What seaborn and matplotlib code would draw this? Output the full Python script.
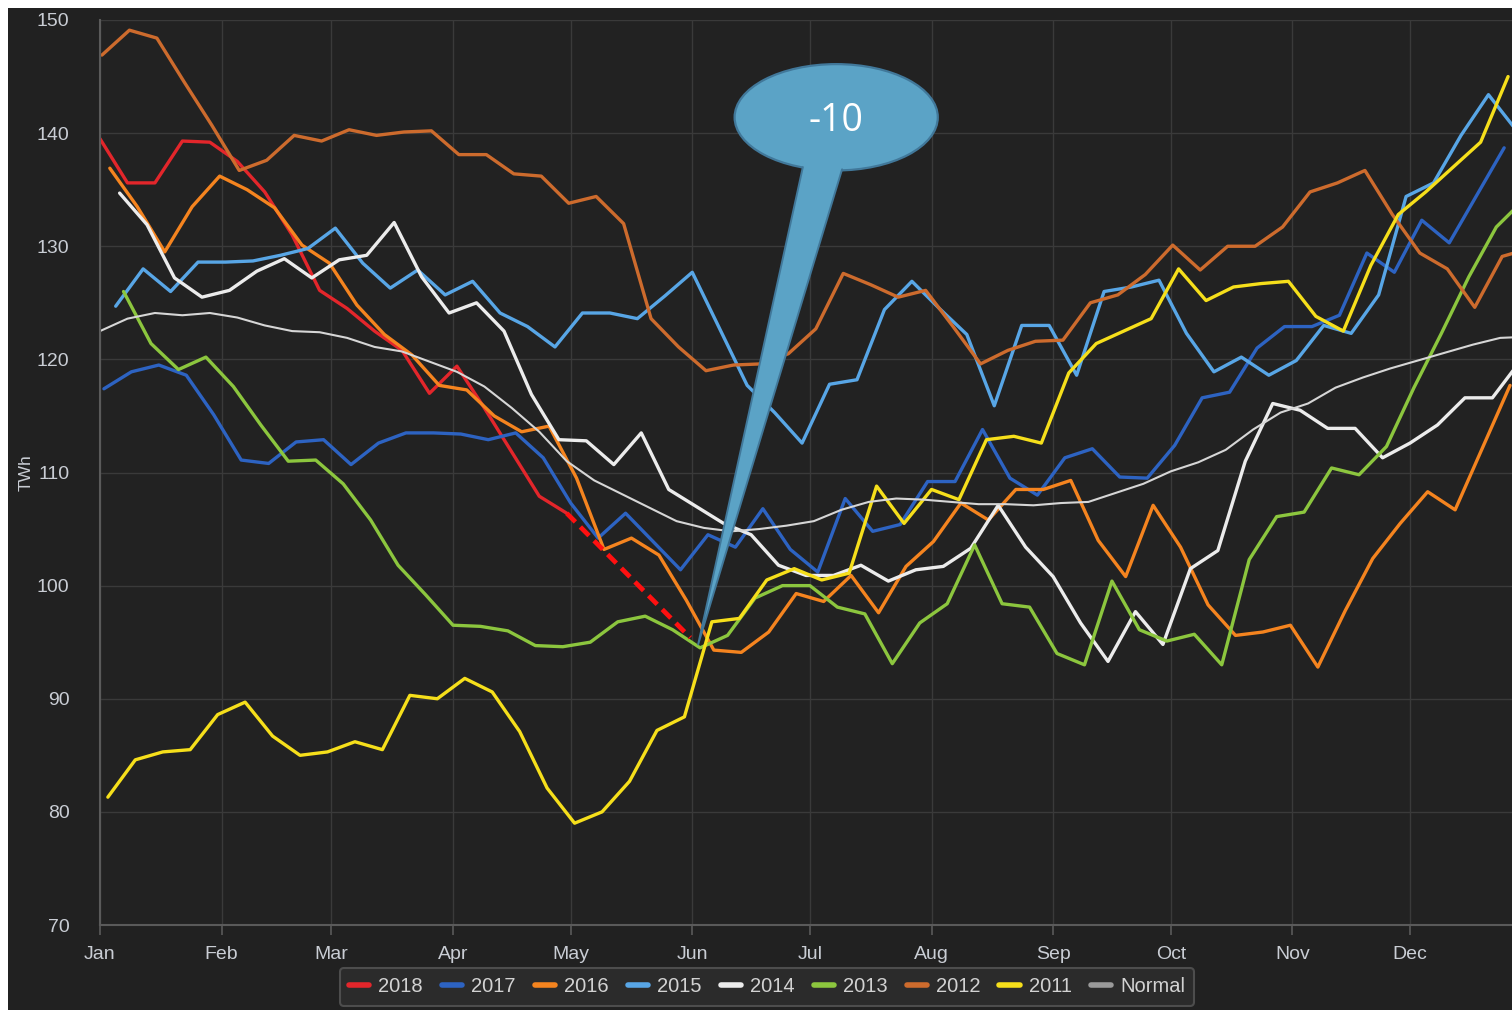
import numpy as np
import pandas as pd
import matplotlib
matplotlib.use("Agg")
import matplotlib.pyplot as plt
import seaborn as sns
from matplotlib.lines import Line2D
from matplotlib.patches import Ellipse, Polygon, Rectangle

# ---- data (weekly reservoir energy, TWh) ----
months = ["Jan", "Feb", "Mar", "Apr", "May", "Jun",
          "Jul", "Aug", "Sep", "Oct", "Nov", "Dec"]
month_start_days = [0, 31, 59, 90, 120, 151, 181, 212, 243, 273, 304, 334]

series_order = ["2018", "2017", "2016", "2015", "2014", "2013", "2012", "2011", "Normal"]
# day of year of the first weekly value of each series
start_day = {"2018": 0, "2017": 1, "2016": 2.5, "2015": 4, "2014": 5,
             "2013": 6, "2012": 0.5, "2011": 2, "Normal": 0}

y2018 = [139.5, 135.6, 135.6, 139.3, 139.2, 137.5, 134.8, 131.0, 126.1, 124.5,
         122.5, 120.8, 117.0, 119.4, 115.7, 111.8, 107.9, 106.4]
y2017 = [117.4, 118.9, 119.5, 118.6, 115.1, 111.1, 110.8, 112.7, 112.9, 110.7,
         112.6, 113.5, 113.5, 113.4, 112.9, 113.5, 111.3,
         107.3, 104.2, 106.4, 103.9, 101.4, 104.5, 103.4, 106.8, 103.2, 101.2,
         107.7, 104.8, 105.4, 109.2, 109.2, 113.8, 109.5,
         108.0, 111.3, 112.1, 109.6, 109.5, 112.4, 116.6, 117.1, 121.0, 122.9,
         122.9, 123.9, 129.4, 127.7, 132.3, 130.3, 134.5, 138.7]
y2016 = [136.9, 133.5, 129.5, 133.5, 136.2, 135.0, 133.4, 130.1, 128.5, 124.8,
         122.2, 120.4, 117.7, 117.3, 115.0, 113.6, 114.1, 109.5,
         103.2, 104.2, 102.7, 98.7, 94.3, 94.1, 95.9, 99.3, 98.6, 100.9, 97.6,
         101.7, 103.9, 107.3, 105.8, 108.5,
         108.5, 109.3, 104.0, 100.8, 107.1, 103.4, 98.3, 95.6, 95.9, 96.5, 92.8,
         97.8, 102.4, 105.5, 108.3, 106.7, 112.2, 117.7]
y2015 = [124.7, 128.0, 126.0, 128.6, 128.6, 128.7, 129.2, 129.8, 131.6, 128.5,
         126.3, 127.9, 125.7, 126.9, 124.1, 122.9, 121.1,
         124.1, 124.1, 123.6, 125.6, 127.7, 122.7, 117.7, 115.3, 112.6, 117.8,
         118.2, 124.4, 126.9, 124.5, 122.2, 115.9, 123.0,
         123.0, 118.6, 126.0, 126.4, 127.0, 122.3, 118.9, 120.2, 118.6, 119.9,
         123.0, 122.3, 125.7, 134.4, 135.6, 139.8, 143.4, 140.3]
y2014 = [134.7, 131.9, 127.2, 125.5, 126.1, 127.8, 128.9, 127.2, 128.8, 129.2,
         132.1, 127.3, 124.1, 125.0, 122.5, 116.9, 112.9,
         112.8, 110.7, 113.5, 108.5, 107.0, 105.5, 104.5, 101.8, 100.9, 100.9,
         101.8, 100.4, 101.4, 101.7, 103.3, 107.1, 103.4,
         100.8, 96.7, 93.3, 97.7, 94.8, 101.5, 103.1, 111.0, 116.1, 115.5, 113.9,
         113.9, 111.3, 112.6, 114.2, 116.6, 116.6, 119.8]
y2013 = [126.0, 121.4, 119.1, 120.2, 117.6, 114.2, 111.0, 111.1, 109.0, 105.8,
         101.8, 99.2, 96.5, 96.4, 96.0, 94.7, 94.6,
         95.0, 96.8, 97.3, 96.1, 94.5, 95.6, 98.9, 100.0, 100.0, 98.1, 97.5,
         93.1, 96.7, 98.4, 103.6, 98.4, 98.1,
         94.0, 93.0, 100.4, 96.1, 95.1, 95.7, 93.0, 102.3, 106.1, 106.5, 110.4,
         109.8, 112.3, 117.5, 122.3, 127.3, 131.7, 134.1]
y2012 = [146.9, 149.1, 148.4, 144.5, 140.7, 136.7, 137.6, 139.8, 139.3, 140.3,
         139.8, 140.1, 140.2, 138.1, 138.1, 136.4, 136.2, 133.8,
         134.4, 132.0, 123.6, 121.1, 119.0, 119.5, 119.6, 120.5, 122.7, 127.6,
         126.6, 125.5, 126.1, 122.9, 119.6, 120.8, 121.6,
         121.7, 125.0, 125.7, 127.5, 130.1, 127.9, 130.0, 130.0, 131.7, 134.8,
         135.6, 136.7, 132.8, 129.4, 128.0, 124.6, 129.1, 129.8]
y2011 = [81.3, 84.6, 85.3, 85.5, 88.6, 89.7, 86.7, 85.0, 85.3, 86.2, 85.5,
         90.3, 90.0, 91.8, 90.6, 87.1, 82.1,
         79.0, 80.0, 82.7, 87.2, 88.4, 96.8, 97.1, 100.5, 101.5, 100.5, 101.1,
         108.8, 105.5, 108.5, 107.6, 112.9, 113.2,
         112.6, 118.8, 121.4, 122.5, 123.6, 128.0, 125.2, 126.4, 126.7, 126.9,
         123.8, 122.5, 128.3, 132.8, 134.8, 137.0, 139.2, 145.0]
y_normal = [122.5, 123.6, 124.1, 123.9, 124.1, 123.7, 123.0, 122.5, 122.4, 121.9,
            121.1, 120.7, 119.8, 118.9, 117.6, 115.7, 113.6, 111.0, 109.3, 108.1,
            106.9, 105.7, 105.1, 104.8, 105.0, 105.3, 105.7, 106.7, 107.4, 107.7,
            107.6, 107.4, 107.2, 107.2, 107.1, 107.3, 107.4, 108.2, 109.0, 110.1,
            110.9, 112.0, 113.8, 115.3, 116.1, 117.5, 118.4, 119.2, 119.9, 120.6,
            121.3, 121.9, 122.0]

# projected 2018 level at the start of June and the shortfall label
forecast_day, forecast_twh = 150.5, 95.4
callout_text = "-10"

colors = {"2018": "#e3262b", "2017": "#2d63c2", "2016": "#f5841f",
          "2015": "#58a6e6", "2014": "#ececec", "2013": "#8cc63e",
          "2012": "#cd6b2d", "2011": "#f6df1b", "Normal": "#d6d6d6"}
legend_colors = dict(colors, Normal="#9a9a9a")

values = {"2018": y2018, "2017": y2017, "2016": y2016, "2015": y2015,
          "2014": y2014, "2013": y2013, "2012": y2012, "2011": y2011,
          "Normal": y_normal}

rows = []
for name in series_order:
    for i, v in enumerate(values[name]):
        rows.append((name, start_day[name] + 7 * i, v))
df = pd.DataFrame(rows, columns=["series", "day", "twh"])

# ---- styling ----
sns.set_style("dark")
plt.rcParams["font.family"] = ["Liberation Sans", "DejaVu Sans"]
bg = "#212121"
text_col = "#c9cdd4"

fig = plt.figure(figsize=(15.12, 10.10), dpi=100, facecolor="white")
fig.add_artist(Rectangle((8 / 1512, 0), 1, 1002 / 1010, transform=fig.transFigure,
                         facecolor=bg, edgecolor="none", zorder=-10))
ax = fig.add_axes([100 / 1512, 85 / 1010, 1412 / 1512, 905 / 1010])
ax.set_facecolor("#222222")

years = df[df.series != "Normal"]
sns.lineplot(data=years, x="day", y="twh", hue="series",
             hue_order=series_order[:-1], palette=colors, estimator=None,
             sort=False, linewidth=2.4, legend=False, ax=ax)
sns.lineplot(data=df[df.series == "Normal"], x="day", y="twh",
             color=colors["Normal"], estimator=None, linewidth=1.5,
             legend=False, ax=ax)

# dashed projection from last 2018 value
ax.plot([start_day["2018"] + 7 * (len(y2018) - 1), forecast_day],
        [y2018[-1], forecast_twh], color="#ff1010", lw=3.4,
        ls=(0, (2.6, 1.5)), zorder=4)

ax.set_xlim(0, 360)
ax.set_ylim(70, 150)
ax.set_xticks(month_start_days)
ax.set_xticklabels(months)
ax.set_yticks(np.arange(70, 151, 10))
ax.grid(True, color="#3a3a3a", lw=1.0)
ax.set_axisbelow(True)
for s in ["top", "right"]:
    ax.spines[s].set_visible(False)
for s in ["left", "bottom"]:
    ax.spines[s].set_color("#5a5a5a")
    ax.spines[s].set_linewidth(1.5)
ax.tick_params(axis="x", length=7, width=1.2, color="#5a5a5a", colors=text_col,
               labelsize=14, pad=8, direction="out", bottom=True)
ax.tick_params(axis="y", length=0, colors=text_col, labelsize=14, pad=22)
ax.set_xlabel("")
ax.set_ylabel("TWh", color=text_col, fontsize=12.5)
ax.yaxis.set_label_coords(-0.047, 0.50)

# callout bubble
cx, cy = 187.7, 141.4
tail = [(179.2, 138.5), (189.2, 138.5), (189.2, 136.8), (152.5, 94.8), (179.2, 137.0)]
ax.add_patch(Ellipse((cx, cy), 51.8, 9.4, facecolor="#5ba3c6",
                     edgecolor="#41789a", lw=1.6, zorder=6, clip_on=False))
ax.add_patch(Polygon(tail, closed=True, facecolor="#5ba3c6", edgecolor="none",
                     zorder=7))
ax.plot([179.2, 152.5, 189.2], [137.0, 94.8, 136.8], color="#41789a", lw=1.4,
        zorder=7)
ax.text(cx, cy - 0.3, callout_text, color="white", fontsize=27,
        family=["Open Sans", "DejaVu Sans"], ha="center", va="center", zorder=8)

# legend
handles = [Line2D([], [], color=legend_colors[n], lw=4) for n in series_order]
leg = fig.legend(handles, series_order, loc="center", ncol=9,
                 bbox_to_anchor=(767 / 1512, 23 / 1010), frameon=True,
                 facecolor="#2b2b2b", edgecolor="#4d4d4d", fontsize=14.5,
                 labelcolor="#d2d2d2", handlelength=1.0, handletextpad=0.45,
                 columnspacing=0.95, borderpad=0.45)
leg.get_frame().set_linewidth(1.5)
leg.get_frame().set_alpha(1)

fig.savefig("out.png", dpi=100, facecolor="white")
